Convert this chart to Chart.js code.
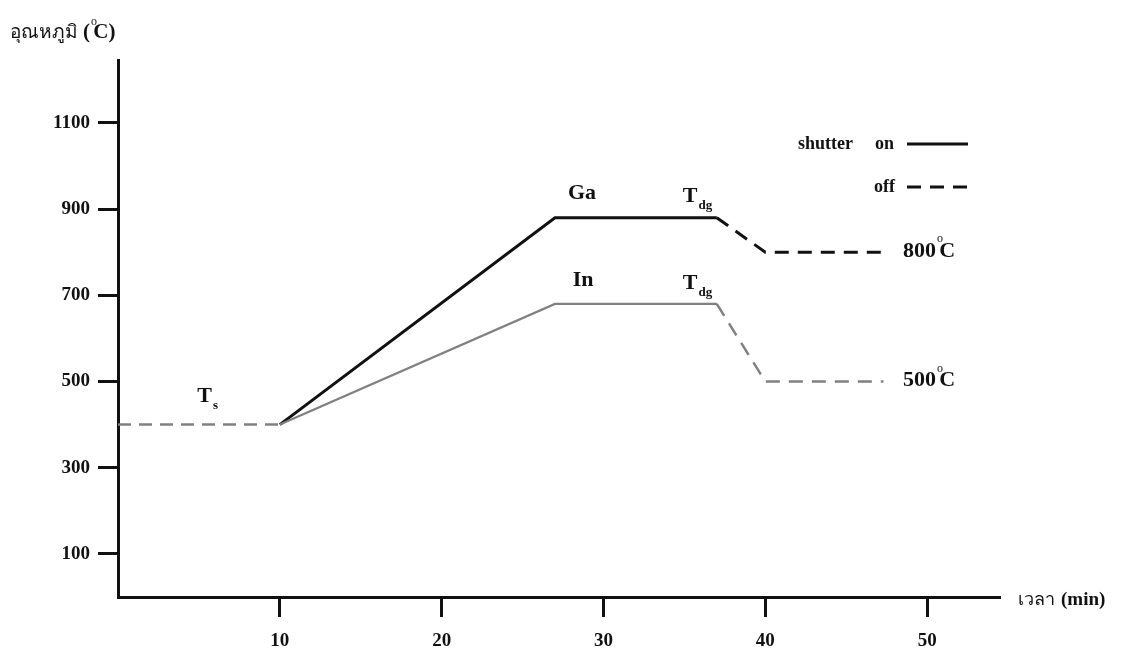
<!DOCTYPE html>
<html>
<head>
<meta charset="utf-8">
<script src="https://cdn.jsdelivr.net/npm/chart.js@4"></script>
<style>
  html, body { margin: 0; padding: 0; background: #fff; }
  #wrap { width: 1122px; height: 650px; }
</style>
</head>
<body>
<div id="wrap"><canvas id="tempChart" width="1122" height="650"></canvas></div>
<script>
// ข้อมูล (อ่านจากภาพ)
const xTicks = [10, 20, 30, 40, 50];
const yTicks = [100, 300, 500, 700, 900, 1100];

const tsTime = [0, 10];
const tsTemp = [400, 400];
const gaOnTime = [10, 27, 37];
const gaOnTemp = [400, 880, 880];
const gaOffTime = [37, 40, 47.3];
const gaOffTemp = [880, 800, 800];
const inOnTime = [10, 27, 37];
const inOnTemp = [400, 680, 680];
const inOffTime = [37, 40, 47.3];
const inOffTemp = [680, 500, 500];

// ป้ายข้อความ (ตำแหน่งเป็นค่าข้อมูล)
const labels = [
  { x: 27.8, y: 937, parts: [{ t: "Ga" }] },
  { x: 28.1, y: 735, parts: [{ t: "In" }] },
  { x: 34.9, y: 930, parts: [{ t: "T" }, { t: "dg", sub: true }] },
  { x: 34.9, y: 728, parts: [{ t: "T" }, { t: "dg", sub: true }] },
  { x: 4.9, y: 465, parts: [{ t: "T" }, { t: "s", sub: true }] },
  { x: 48.5, y: 802, parts: [{ t: "800" }, { t: "o", sup: true }, { t: "C" }] },
  { x: 48.5, y: 502, parts: [{ t: "500" }, { t: "o", sup: true }, { t: "C" }] },
];

const SERIF = "'Liberation Serif', 'Times New Roman', serif";
const BLACK = "#111";
const GREY = "#808080";

const pts = (xs, ys) => xs.map((x, i) => ({ x, y: ys[i] }));

function drawRich(ctx, x, y, parts, size) {
  let cx = x;
  parts.forEach(p => {
    if (p.sub) {
      ctx.font = `bold ${Math.round(size * 0.6)}px ${SERIF}`;
      ctx.fillText(p.t, cx + 1, y + size * 0.42);
      cx += ctx.measureText(p.t).width + 2;
    } else if (p.sup) {
      ctx.font = `${Math.round(size * 0.55)}px ${SERIF}`;
      ctx.fillText(p.t, cx + 1, y - size * 0.55);
      cx += ctx.measureText(p.t).width * 0.55;
    } else {
      ctx.font = `bold ${size}px ${SERIF}`;
      ctx.fillText(p.t, cx, y);
      cx += ctx.measureText(p.t).width;
    }
  });
}

const textPlugin = {
  id: "textPlugin",
  afterDatasetsDraw(chart) {
    const ctx = chart.ctx;
    const xs = chart.scales.x, ys = chart.scales.y;
    ctx.save();
    ctx.fillStyle = BLACK;
    ctx.textBaseline = "middle";
    ctx.textAlign = "left";
    labels.forEach(l => drawRich(ctx, xs.getPixelForValue(l.x), ys.getPixelForValue(l.y), l.parts, 22));

    // คำอธิบาย shutter on / off
    ctx.font = `bold 18px ${SERIF}`;
    ctx.textAlign = "right";
    ctx.fillText("shutter", 853, 144);
    ctx.fillText("on", 894, 144);
    ctx.fillText("off", 895, 187);
    ctx.strokeStyle = BLACK;
    ctx.lineWidth = 3;
    ctx.beginPath();
    ctx.moveTo(907, 144); ctx.lineTo(968, 144);
    ctx.stroke();
    ctx.setLineDash([14, 9]);
    ctx.beginPath();
    ctx.moveTo(907, 187); ctx.lineTo(968, 187);
    ctx.stroke();
    ctx.setLineDash([]);

    // ชื่อแกน
    ctx.textAlign = "left";
    ctx.font = `19px 'Noto Sans', 'DejaVu Sans', sans-serif`;
    ctx.fillText("อุณหภูมิ", 10, 33);
    let w = ctx.measureText("อุณหภูมิ").width;
    drawRich(ctx, 10 + w + 5, 33, [{ t: "(" }, { t: "o", sup: true }, { t: "C)" }], 21);

    ctx.font = `18px 'Noto Sans', 'DejaVu Sans', sans-serif`;
    ctx.fillText("เวลา", 1018, 600);
    w = ctx.measureText("เวลา").width;
    ctx.font = `bold 19px ${SERIF}`;
    ctx.fillText("(min)", 1018 + w + 6, 600);
    ctx.restore();
  }
};

const line = (data, color, width, dash) => ({
  data, borderColor: color, borderWidth: width, borderDash: dash || [],
  pointRadius: 0, tension: 0, showLine: true, fill: false,
});

const tickFont = { family: SERIF, size: 19, weight: "bold" };

new Chart(document.getElementById("tempChart").getContext("2d"), {
  type: "scatter",
  data: {
    datasets: [
      line(pts(tsTime, tsTemp), GREY, 2.5, [13, 8]),
      line(pts(inOnTime, inOnTemp), GREY, 2.2),
      line(pts(inOffTime, inOffTemp), GREY, 2.5, [14, 9]),
      line(pts(gaOnTime, gaOnTemp), BLACK, 3),
      line(pts(gaOffTime, gaOffTemp), BLACK, 3, [14, 9]),
    ]
  },
  options: {
    responsive: false,
    animation: false,
    layout: { padding: { left: 0, right: 122, top: 60, bottom: 0 } },
    plugins: { legend: { display: false }, tooltip: { enabled: false } },
    scales: {
      x: {
        type: "linear", min: 0, max: 54.5,
        afterBuildTicks: s => { s.ticks = xTicks.map(v => ({ value: v })); },
        afterFit: s => { s.height = 53; },
        grid: { drawOnChartArea: false, drawTicks: true, tickLength: 20, tickWidth: 3, tickColor: BLACK },
        border: { display: true, color: BLACK, width: 3 },
        ticks: { color: BLACK, padding: 13, font: tickFont, callback: v => String(v) },
      },
      y: {
        type: "linear", min: 0, max: 1246,
        afterBuildTicks: s => { s.ticks = yTicks.map(v => ({ value: v })); },
        afterFit: s => { s.width = 118; },
        grid: { drawOnChartArea: false, drawTicks: true, tickLength: 20, tickWidth: 3, tickColor: BLACK },
        border: { display: true, color: BLACK, width: 3 },
        ticks: { color: BLACK, padding: 8, font: tickFont, callback: v => String(v) },
      }
    }
  },
  plugins: [textPlugin]
});
</script>
</body>
</html>
